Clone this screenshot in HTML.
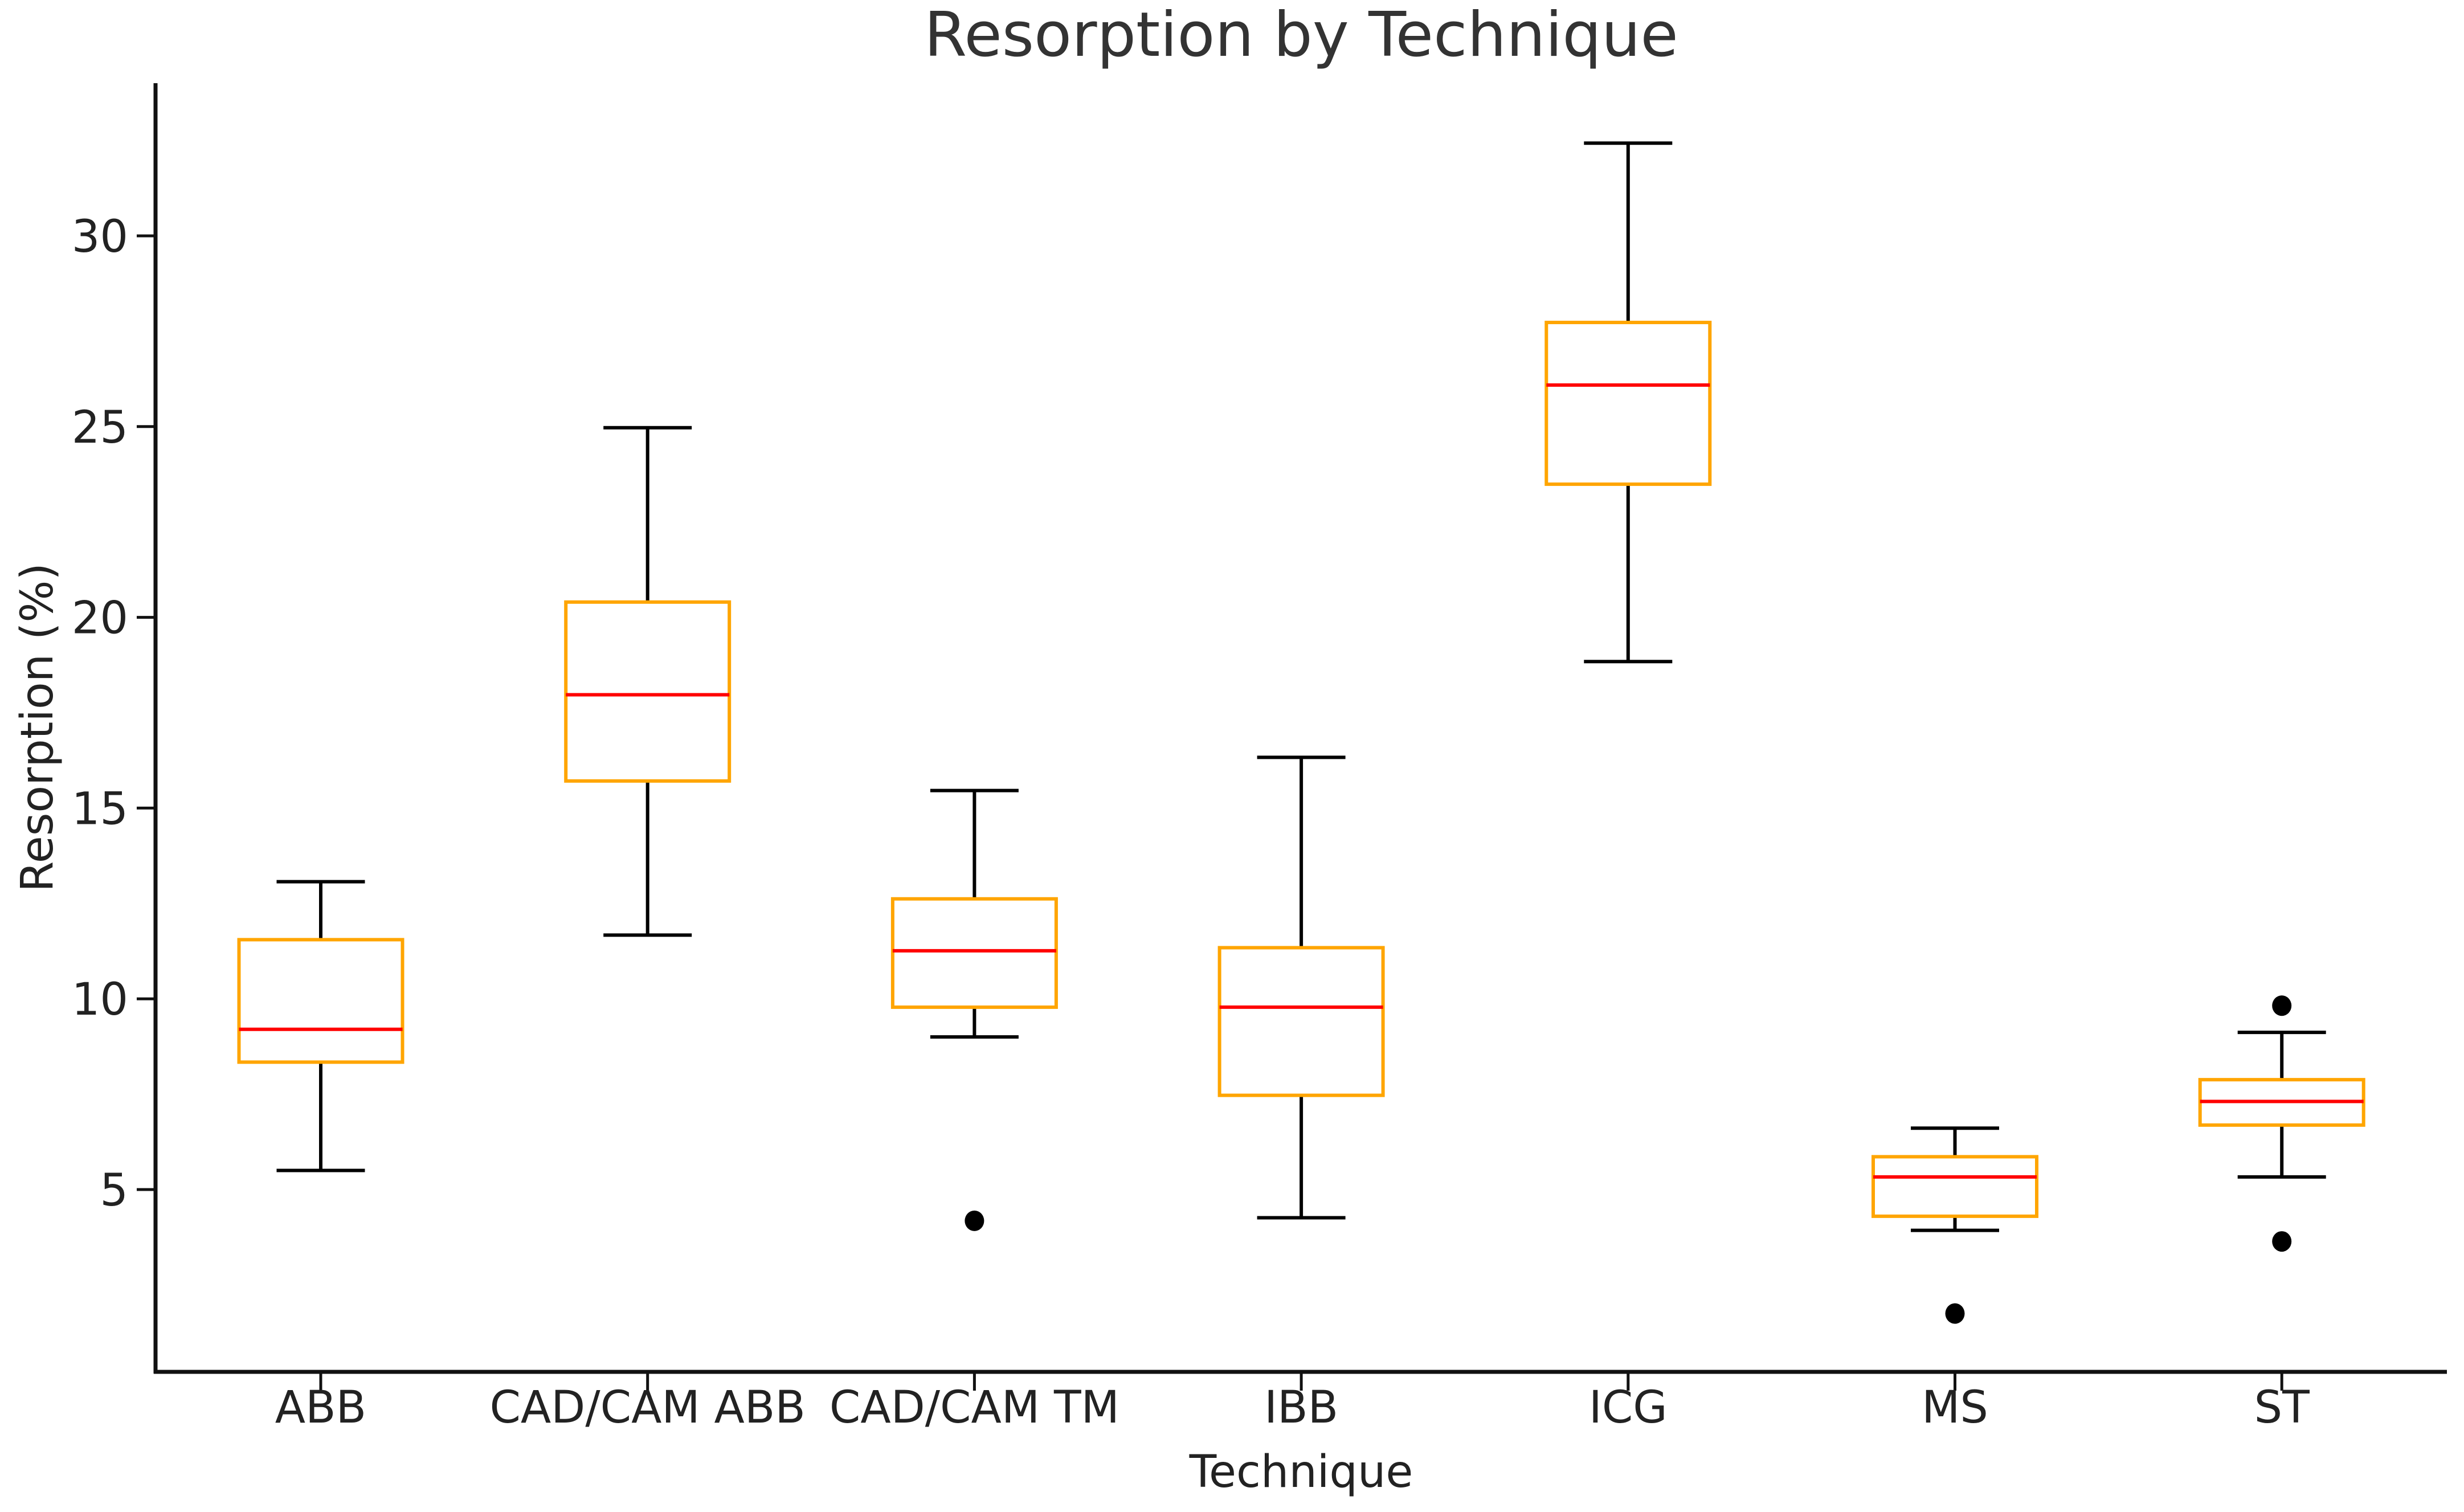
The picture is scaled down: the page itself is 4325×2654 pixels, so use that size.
<!DOCTYPE html>
<html><head><meta charset="utf-8"><style>
html,body{margin:0;padding:0;background:#fff}
svg{display:block}
text{font-family:"DejaVu Sans","Liberation Sans",sans-serif}
</style></head><body>
<svg id="chart" width="4325" height="2654" viewBox="0 0 4325 2654" xmlns="http://www.w3.org/2000/svg">
<text x="2284" y="98" font-size="108" fill="#333" text-anchor="middle">Resorption by Technique</text>
<g id="plot"></g>
<text x="2284" y="2610" font-size="78" fill="#222" text-anchor="middle">Technique</text>
<text transform="translate(92,1277) rotate(-90)" font-size="78" fill="#222" text-anchor="middle">Resorption (%)</text>
</svg>
<script>
const categories = ["ABB","CAD/CAM ABB","CAD/CAM TM","IBB","ICG","MS","ST"];
const whiskerLow = [5.5, 11.67, 9.0, 4.26, 18.84, 3.93, 5.33];
const q1Values = [8.34, 15.71, 9.78, 7.47, 23.49, 4.3, 6.69];
const medianValues = [9.2, 17.97, 11.26, 9.78, 26.09, 5.33, 7.31];
const q3Values = [11.55, 20.4, 12.62, 11.34, 27.73, 5.86, 7.88];
const whiskerHigh = [13.07, 24.97, 15.46, 16.33, 32.43, 6.61, 9.12];
const outlierCats = [2, 5, 6, 6];
const outlierValues = [4.18, 1.75, 9.82, 3.64];
const yTicks = [5, 10, 15, 20, 25, 30];

const NS = "http://www.w3.org/2000/svg";
const plot = document.getElementById("plot");
const L = 273, R = 4295, T = 146, B = 2408;
const step = 573.7, x0 = 563;
function xScale(i){ return x0 + i*step; }
function yScale(v){ return 2088 - (v - 5) * 66.96; }
function mk(tag, attrs){ const e = document.createElementNS(NS, tag); for (const k in attrs) e.setAttribute(k, attrs[k]); plot.appendChild(e); return e; }

let ax = mk("line", {x1:L, y1:T, x2:L, y2:B+3, stroke:"#111", "stroke-width":7});


ax = mk("line", {x1:L-3, y1:B, x2:R, y2:B, stroke:"#111", "stroke-width":7});



yTicks.forEach(v => {
  const y = yScale(v);
  const t = mk("line", {x1:L-33, y1:y, x2:L, y2:y, stroke:"#111", "stroke-width":5});
  
  
  const lb = mk("text", {x:L-48, y:y+28, "font-size":78, fill:"#222", "text-anchor":"end"});
  lb.textContent = v;
  
  
});

const bw = 287, cw = 155;
categories.forEach((c, i) => {
  const x = xScale(i);
  const t = mk("line", {x1:x, y1:B, x2:x, y2:B+33, stroke:"#111", "stroke-width":5});
  
  
  const lb = mk("text", {x:x, y:2497, "font-size":78, fill:"#222", "text-anchor":"middle"});
  lb.textContent = c;
  
  

  const g = document.createElementNS(NS, "g");
  
  
  plot.appendChild(g);
  const add = (tag, a) => { const e = document.createElementNS(NS, tag); for (const k in a) e.setAttribute(k, a[k]); g.appendChild(e); return e; };
  let e;
  e = add("line", {x1:x, y1:yScale(whiskerLow[i]), x2:x, y2:yScale(q1Values[i]), stroke:"#000", "stroke-width":6});
  
  
  e = add("line", {x1:x, y1:yScale(q3Values[i]), x2:x, y2:yScale(whiskerHigh[i]), stroke:"#000", "stroke-width":6});
  
  
  e = add("line", {x1:x-cw/2, y1:yScale(whiskerLow[i]), x2:x+cw/2, y2:yScale(whiskerLow[i]), stroke:"#000", "stroke-width":6});
  
  
  e = add("line", {x1:x-cw/2, y1:yScale(whiskerHigh[i]), x2:x+cw/2, y2:yScale(whiskerHigh[i]), stroke:"#000", "stroke-width":6});
  
  
  e = add("rect", {x:x-bw/2, y:yScale(q3Values[i]), width:bw, height:yScale(q1Values[i])-yScale(q3Values[i]), fill:"#fff", stroke:"#FFA500", "stroke-width":6});
  
  
  e = add("line", {x1:x-bw/2, y1:yScale(medianValues[i]), x2:x+bw/2, y2:yScale(medianValues[i]), stroke:"#FF0000", "stroke-width":6});
  
  
});

outlierValues.forEach((v, k) => {
  const o = mk("ellipse", {cx:xScale(outlierCats[k]), cy:yScale(v), rx:17, ry:18, fill:"#000"});
  
  
});
</script>
</body></html>
